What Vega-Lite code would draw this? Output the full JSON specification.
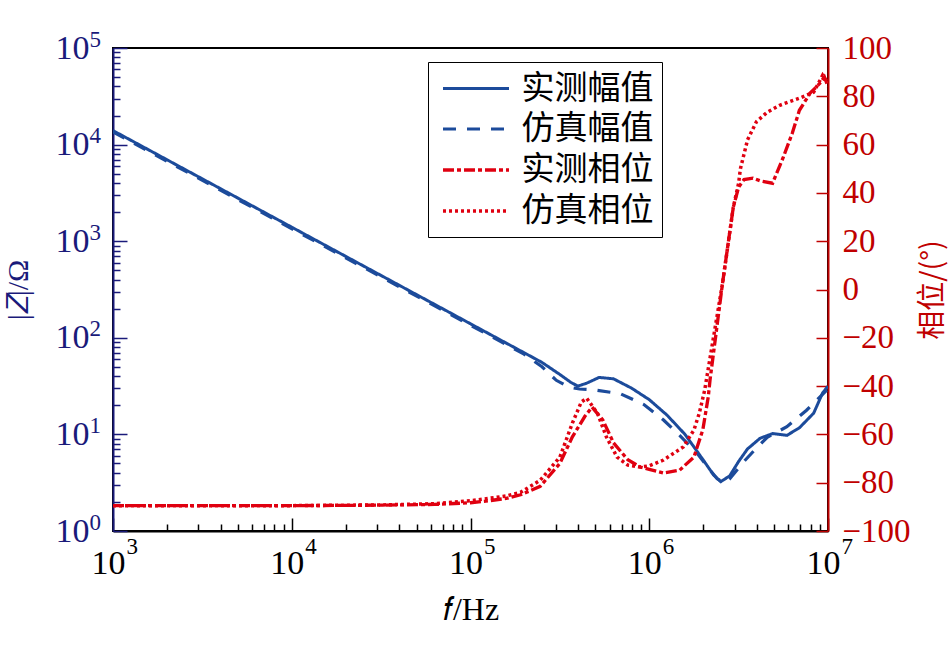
{
  "$schema": "https://vega.github.io/schema/vega-lite/v6.json",
  "width": 715,
  "height": 483,
  "autosize": {"type": "none"},
  "padding": {"left": 113, "top": 48, "right": 123, "bottom": 124},
  "background": "white",
  "config": {
    "view": {"stroke": "black", "strokeWidth": 2},
    "font": "Liberation Serif",
    "axis": {"grid": false, "labelOverlap": false, "labelFlush": false, "titleFontWeight": "normal", "labelFont": "Liberation Serif"}
  },
  "datasets": {
    "mag": [
      {"f": 1000, "series": "实测幅值", "z": 13964},
      {"f": 10000, "series": "实测幅值", "z": 1396},
      {"f": 100000, "series": "实测幅值", "z": 139.6},
      {"f": 199526, "series": "实测幅值", "z": 70.0},
      {"f": 251189, "series": "实测幅值", "z": 55.6},
      {"f": 316228, "series": "实测幅值", "z": 41.7},
      {"f": 363078, "series": "实测幅值", "z": 34.7},
      {"f": 398107, "series": "实测幅值", "z": 31.6},
      {"f": 446684, "series": "实测幅值", "z": 33.9},
      {"f": 524807, "series": "实测幅值", "z": 38.9},
      {"f": 630957, "series": "实测幅值", "z": 37.6},
      {"f": 794328, "series": "实测幅值", "z": 30.2},
      {"f": 1000000, "series": "实测幅值", "z": 22.9},
      {"f": 1258925, "series": "实测幅值", "z": 15.8},
      {"f": 1584893, "series": "实测幅值", "z": 10.0},
      {"f": 1995262, "series": "实测幅值", "z": 5.5},
      {"f": 2290868, "series": "实测幅值", "z": 3.8},
      {"f": 2511886, "series": "实测幅值", "z": 3.24},
      {"f": 2818383, "series": "实测幅值", "z": 3.72},
      {"f": 3162278, "series": "实测幅值", "z": 5.25},
      {"f": 3548134, "series": "实测幅值", "z": 7.08},
      {"f": 4168694, "series": "实测幅值", "z": 9.12},
      {"f": 4897788, "series": "实测幅值", "z": 10.2},
      {"f": 5888437, "series": "实测幅值", "z": 9.77},
      {"f": 6918310, "series": "实测幅值", "z": 11.7},
      {"f": 8317638, "series": "实测幅值", "z": 16.6},
      {"f": 9332543, "series": "实测幅值", "z": 26.9},
      {"f": 10000000, "series": "实测幅值", "z": 31.6},
      {"f": 1000, "series": "仿真幅值", "z": 13490},
      {"f": 100000, "series": "仿真幅值", "z": 134.9},
      {"f": 199526, "series": "仿真幅值", "z": 67.6},
      {"f": 251189, "series": "仿真幅值", "z": 50.1},
      {"f": 301995, "series": "仿真幅值", "z": 36.3},
      {"f": 354813, "series": "仿真幅值", "z": 30.9},
      {"f": 407380, "series": "仿真幅值", "z": 29.5},
      {"f": 501187, "series": "仿真幅值", "z": 28.8},
      {"f": 691831, "series": "仿真幅值", "z": 26.3},
      {"f": 933254, "series": "仿真幅值", "z": 20.4},
      {"f": 1202264, "series": "仿真幅值", "z": 14.1},
      {"f": 1479108, "series": "仿真幅值", "z": 9.77},
      {"f": 1862087, "series": "仿真幅值", "z": 6.31},
      {"f": 2187762, "series": "仿真幅值", "z": 4.27},
      {"f": 2398833, "series": "仿真幅值", "z": 3.47},
      {"f": 2630268, "series": "仿真幅值", "z": 3.16},
      {"f": 2818383, "series": "仿真幅值", "z": 3.47},
      {"f": 3388442, "series": "仿真幅值", "z": 5.25},
      {"f": 3981072, "series": "仿真幅值", "z": 7.24},
      {"f": 4570882, "series": "仿真幅值", "z": 9.33},
      {"f": 5888437, "series": "仿真幅值", "z": 12.0},
      {"f": 7585776, "series": "仿真幅值", "z": 17.8},
      {"f": 10000000, "series": "仿真幅值", "z": 29.5}
    ],
    "phase": [
      {"f": 1000, "series": "实测相位", "p": -89.5},
      {"f": 10000, "series": "实测相位", "p": -89.5},
      {"f": 31623, "series": "实测相位", "p": -89.3},
      {"f": 63096, "series": "实测相位", "p": -89.0},
      {"f": 100000, "series": "实测相位", "p": -88.3},
      {"f": 125893, "series": "实测相位", "p": -87.5},
      {"f": 158489, "series": "实测相位", "p": -86.5},
      {"f": 190546, "series": "实测相位", "p": -85.0},
      {"f": 245471, "series": "实测相位", "p": -81.5},
      {"f": 316228, "series": "实测相位", "p": -72.0},
      {"f": 371535, "series": "实测相位", "p": -61.0},
      {"f": 436516, "series": "实测相位", "p": -52.5},
      {"f": 478630, "series": "实测相位", "p": -48.7},
      {"f": 549541, "series": "实测相位", "p": -54.0},
      {"f": 630957, "series": "实测相位", "p": -63.5},
      {"f": 758578, "series": "实测相位", "p": -70.5},
      {"f": 891251, "series": "实测相位", "p": -73.5},
      {"f": 1000000, "series": "实测相位", "p": -74.5},
      {"f": 1202264, "series": "实测相位", "p": -76.0},
      {"f": 1479108, "series": "实测相位", "p": -74.8},
      {"f": 1778279, "series": "实测相位", "p": -69.4},
      {"f": 1995262, "series": "实测相位", "p": -58.0},
      {"f": 2137962, "series": "实测相位", "p": -44.5},
      {"f": 2187762, "series": "实测相位", "p": -37.5},
      {"f": 2570396, "series": "实测相位", "p": 2.6},
      {"f": 2951209, "series": "实测相位", "p": 34.0},
      {"f": 3162278, "series": "实测相位", "p": 42.4},
      {"f": 3388442, "series": "实测相位", "p": 45.5},
      {"f": 3801894, "series": "实测相位", "p": 46.1},
      {"f": 4168694, "series": "实测相位", "p": 45.0},
      {"f": 4897788, "series": "实测相位", "p": 44.0},
      {"f": 5623413, "series": "实测相位", "p": 54.8},
      {"f": 6309573, "series": "实测相位", "p": 64.7},
      {"f": 6918310, "series": "实测相位", "p": 74.2},
      {"f": 7943282, "series": "实测相位", "p": 81.3},
      {"f": 9015711, "series": "实测相位", "p": 85.4},
      {"f": 9549926, "series": "实测相位", "p": 88.0},
      {"f": 10000000, "series": "实测相位", "p": 84.0},
      {"f": 1000, "series": "仿真相位", "p": -89.5},
      {"f": 10000, "series": "仿真相位", "p": -89.5},
      {"f": 31623, "series": "仿真相位", "p": -89.2},
      {"f": 63096, "series": "仿真相位", "p": -88.7},
      {"f": 100000, "series": "仿真相位", "p": -87.5},
      {"f": 125893, "series": "仿真相位", "p": -86.5},
      {"f": 158489, "series": "仿真相位", "p": -85.5},
      {"f": 190546, "series": "仿真相位", "p": -84.0},
      {"f": 245471, "series": "仿真相位", "p": -79.0},
      {"f": 316228, "series": "仿真相位", "p": -69.4},
      {"f": 371535, "series": "仿真相位", "p": -55.3},
      {"f": 416869, "series": "仿真相位", "p": -46.6},
      {"f": 446684, "series": "仿真相位", "p": -45.0},
      {"f": 512861, "series": "仿真相位", "p": -51.2},
      {"f": 575440, "series": "仿真相位", "p": -61.0},
      {"f": 660693, "series": "仿真相位", "p": -69.4},
      {"f": 758578, "series": "仿真相位", "p": -72.7},
      {"f": 891251, "series": "仿真相位", "p": -73.5},
      {"f": 1000000, "series": "仿真相位", "p": -73.0},
      {"f": 1202264, "series": "仿真相位", "p": -70.6},
      {"f": 1548817, "series": "仿真相位", "p": -65.2},
      {"f": 1778279, "series": "仿真相位", "p": -58.2},
      {"f": 1905461, "series": "仿真相位", "p": -51.2},
      {"f": 2041738, "series": "仿真相位", "p": -41.7},
      {"f": 2570396, "series": "仿真相位", "p": 2.6},
      {"f": 2951209, "series": "仿真相位", "p": 34.0},
      {"f": 3162278, "series": "仿真相位", "p": 44.0},
      {"f": 3235937, "series": "仿真相位", "p": 50.0},
      {"f": 3548134, "series": "仿真相位", "p": 62.0},
      {"f": 3981072, "series": "仿真相位", "p": 69.5},
      {"f": 4570882, "series": "仿真相位", "p": 73.4},
      {"f": 5370318, "series": "仿真相位", "p": 76.3},
      {"f": 6918310, "series": "仿真相位", "p": 79.2},
      {"f": 8317638, "series": "仿真相位", "p": 81.7},
      {"f": 9332543, "series": "仿真相位", "p": 88.7},
      {"f": 9660509, "series": "仿真相位", "p": 87.0},
      {"f": 10000000, "series": "仿真相位", "p": 86.0}
    ]
  },
  "encoding": {
    "color": {
      "field": "series",
      "type": "nominal",
      "scale": {"domain": ["实测幅值", "仿真幅值", "实测相位", "仿真相位"], "range": ["#1c4b9b", "#1c4b9b", "#e00010", "#e00010"]},
      "legend": {
        "orient": "none",
        "legendX": 315,
        "legendY": 14,
        "title": null,
        "strokeColor": "black",
        "fillColor": "white",
        "padding": 8.5,
        "symbolType": "M-2,0H2",
        "symbolSize": 1089,
        "symbolOffset": 21,
        "labelFontSize": 33,
        "labelFont": "Noto Sans CJK SC",
        "labelColor": "black",
        "labelOffset": 27,
        "rowPadding": 5
      }
    },
    "strokeDash": {
      "field": "series",
      "type": "nominal",
      "scale": {"domain": ["实测幅值", "仿真幅值", "实测相位", "仿真相位"], "range": [[1, 0], [13, 11], [11, 3, 4, 3], [3, 3]]},
      "legend": {"title": null}
    },
    "strokeWidth": {
      "field": "series",
      "type": "nominal",
      "scale": {"domain": ["实测幅值", "仿真幅值", "实测相位", "仿真相位"], "range": [3, 3.5, 4.5, 4]},
      "legend": {"title": null}
    }
  },
  "layer": [
    {
      "data": {"name": "mag"},
      "mark": {"type": "line", "clip": true},
      "encoding": {
        "x": {
          "field": "f",
          "type": "quantitative",
          "scale": {"type": "log", "domain": [1000, 10000000], "nice": false},
          "axis": {
            "orient": "bottom",
            "values": [1000, 2000, 3000, 4000, 5000, 6000, 7000, 8000, 9000, 10000, 20000, 30000, 40000, 50000, 60000, 70000, 80000, 90000, 100000, 200000, 300000, 400000, 500000, 600000, 700000, 800000, 900000, 1000000, 2000000, 3000000, 4000000, 5000000, 6000000, 7000000, 8000000, 9000000, 10000000],
            "labelExpr": "abs(log(datum.value)/LN10 - round(log(datum.value)/LN10)) < 0.001 ? '10' : ''",
            "tickSize": {"condition": {"test": "abs(log(datum.value)/LN10 - round(log(datum.value)/LN10)) >= 0.001", "value": -7}, "value": -13},
            "tickColor": "black",
            "tickWidth": 1.5,
            "domainColor": "black",
            "domainWidth": 2,
            "labelFontSize": 34,
            "labelColor": "black",
            "labelPadding": 28,
            "labelOffset": -5,
            "labelBaseline": "top",
            "title": "𝑓/Hz",
            "titleFontSize": 32,
            "titleColor": "black",
            "titlePadding": 8
          }
        },
        "y": {
          "field": "z",
          "type": "quantitative",
          "scale": {"type": "log", "domain": [1, 100000], "nice": false},
          "axis": {
            "orient": "left",
            "values": [1, 2, 3, 4, 5, 6, 7, 8, 9, 10, 20, 30, 40, 50, 60, 70, 80, 90, 100, 200, 300, 400, 500, 600, 700, 800, 900, 1000, 2000, 3000, 4000, 5000, 6000, 7000, 8000, 9000, 10000, 20000, 30000, 40000, 50000, 60000, 70000, 80000, 90000, 100000],
            "labelExpr": "abs(log(datum.value)/LN10 - round(log(datum.value)/LN10)) < 0.001 ? '10' : ''",
            "tickSize": {"condition": {"test": "abs(log(datum.value)/LN10 - round(log(datum.value)/LN10)) >= 0.001", "value": -7}, "value": -14},
            "tickColor": "#1a1a7a",
            "tickWidth": 1.5,
            "domainColor": "#1a1a7a",
            "domainWidth": 2,
            "labelColor": "#1a1a7a",
            "labelFontSize": 34,
            "labelPadding": 38,
            "labelBaseline": "middle",
            "title": "|𝑍|/Ω",
            "titleColor": "#1a1a7a",
            "titleFontSize": 30,
            "titlePadding": 22
          }
        }
      }
    },
    {
      "data": {"name": "phase"},
      "mark": {"type": "line", "clip": true},
      "encoding": {
        "x": {
          "field": "f",
          "type": "quantitative",
          "scale": {"type": "log", "domain": [1000, 10000000], "nice": false},
          "axis": {
            "orient": "bottom",
            "values": [1000, 10000, 100000, 1000000, 10000000],
            "labelExpr": "format(round(log(datum.value)/LN10), 'd')",
            "ticks": false,
            "tickSize": 0,
            "domain": false,
            "labelFontSize": 23,
            "labelColor": "black",
            "labelPadding": 4,
            "labelAlign": "left",
            "labelBaseline": "top",
            "labelOffset": 13,
            "title": null
          }
        },
        "y": {
          "field": "p",
          "type": "quantitative",
          "scale": {"domain": [-100, 100], "nice": false},
          "axis": {
            "orient": "right",
            "values": [-100, -80, -60, -40, -20, 0, 20, 40, 60, 80, 100],
            "tickSize": -12,
            "tickColor": "#c00000",
            "tickWidth": 1.5,
            "domainColor": "#c00000",
            "domainWidth": 2,
            "labelColor": "#c00000",
            "labelFontSize": 33,
            "labelPadding": 26,
            "title": "相位/(°)",
            "titleFont": "Noto Sans CJK SC",
            "titleColor": "#c00000",
            "titleFontSize": 29,
            "titleAngle": 270,
            "titlePadding": 37
          }
        }
      }
    },
    {
      "data": {"name": "mag"},
      "mark": {"type": "line", "clip": true, "opacity": 0},
      "encoding": {
        "x": {
          "field": "f",
          "type": "quantitative",
          "scale": {"type": "log", "domain": [1000, 10000000], "nice": false},
          "axis": null
        },
        "y": {
          "field": "z",
          "type": "quantitative",
          "scale": {"type": "log", "domain": [1, 100000], "nice": false},
          "axis": {
            "orient": "left",
            "values": [1, 10, 100, 1000, 10000, 100000],
            "labelExpr": "format(round(log(datum.value)/LN10), 'd')",
            "ticks": false,
            "tickSize": 0,
            "domain": false,
            "labelColor": "#1a1a7a",
            "labelFontSize": 23,
            "labelPadding": 24,
            "labelAlign": "left",
            "labelBaseline": "middle",
            "labelOffset": -9,
            "title": null
          }
        }
      }
    }
  ],
  "resolve": {"scale": {"y": "independent"}, "axis": {"x": "independent"}}
}
